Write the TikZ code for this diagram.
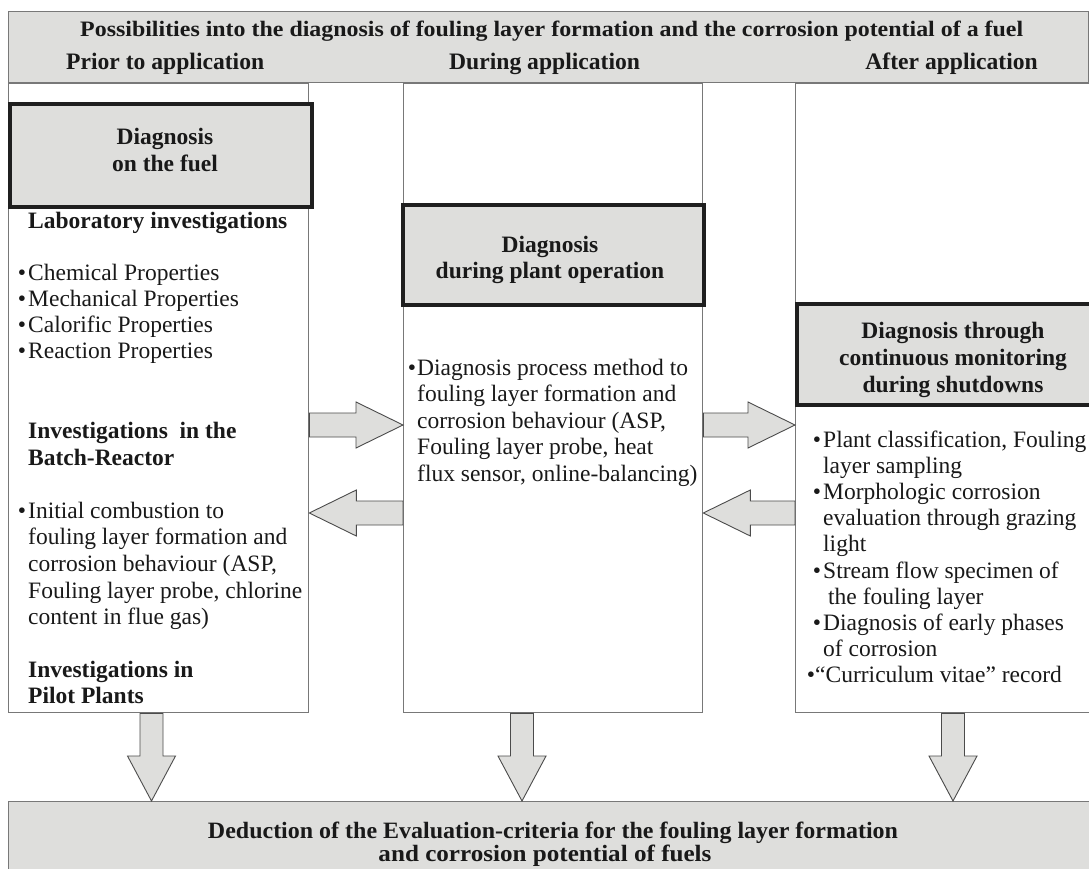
\documentclass[tikz,border=0pt]{standalone}
\usepackage{fontspec}
\setmainfont{Liberation Serif}
\usepackage{graphicx}
\usetikzlibrary{calc}
\definecolor{boxgray}{RGB}{222,222,220}
\definecolor{linegray}{RGB}{120,120,120}
\definecolor{arrowline}{RGB}{75,75,75}
\definecolor{ink}{RGB}{25,25,25}
\newcommand\harr[3]{\draw[fat] ($(#1)+(0,-12)$) -- ($(#2)+(#3,-12)$) -- ($(#2)+(#3,-23)$) -- (#2) -- ($(#2)+(#3,23)$) -- ($(#2)+(#3,12)$) -- ($(#1)+(0,12)$) -- cycle;}
\newcommand\varr[2]{\draw[fat] ($(#1)+(-11.5,0)$) -- ($(#2)+(-11.5,-45)$) -- ($(#2)+(-24,-45)$) -- (#2) -- ($(#2)+(24,-45)$) -- ($(#2)+(11.5,-45)$) -- ($(#1)+(11.5,0)$) -- cycle;}
% multi-line boxes whose baseline is the baseline of their first line
\newcommand\Lft[1]{\vtop{\halign{##\hfil\cr#1\crcr}}}
\newcommand\Ctr[1]{\vtop{\halign{\hfil##\hfil\cr#1\crcr}}}
\newcommand\bul{\llap{\textbullet\hspace{2pt}}}
\begin{document}
\begin{tikzpicture}[x=1pt,y=-1pt,
  col/.style={draw=linegray,line width=1.3pt,fill=white,anchor=north west,inner sep=0pt},
  hdr/.style={draw=linegray,line width=1.3pt,fill=boxgray,anchor=north west,inner sep=0pt},
  thickbox/.style={draw=black!88,line width=3.6pt,fill=boxgray,anchor=north west,inner sep=0pt},
  fat/.style={draw=arrowline,line width=0.9pt,fill=boxgray,line join=miter},
  txt/.style={text=ink,anchor=base west,inner sep=0pt},
  ctxt/.style={text=ink,font=\fontsize{23.5}{26.5}\selectfont\bfseries,anchor=base,inner sep=0pt},
  htxt/.style={text=ink,font=\fontsize{23.6}{26}\selectfont\bfseries,inner sep=0pt}]
\useasboundingbox (0,0) rectangle (1089,869);
\fill[white] (0,0) rectangle (1089,869);
% columns
\node[col,minimum width=300pt,minimum height=629pt] (L) at (8,83) {};
\node[col,minimum width=299pt,minimum height=629pt] (M) at (403,83) {};
\node[col,minimum width=300pt,minimum height=629pt] (R) at (795,83) {};
% header
\node[hdr,minimum width=1080pt,minimum height=71pt] (H) at (8,11) {};
\node[htxt,anchor=base west] (title) at (80,37) {\resizebox{943pt}{15.5pt}{Possibilities into the diagnosis of fouling layer formation and the corrosion potential of a fuel}};
\node[htxt,anchor=base west] (prior) at (66,70) {Prior to application};
\node[htxt,anchor=base west] (during) at (449,70) {During application};
\node[htxt,anchor=base east] (after) at (1038,70) {After application};
% thick boxes
\node[thickbox,minimum width=302pt,minimum height=103pt] (TL) at (8,102) {};
\node[thickbox,minimum width=301pt,minimum height=100pt] (TM) at (401,203) {};
\node[thickbox,minimum width=300pt,minimum height=101pt] (TR) at (795,302) {};
\node[ctxt] (tlt) at (165,145) {\Ctr{Diagnosis\cr on the fuel}};
\node[ctxt] (tmt) at (550,252) {\Ctr{Diagnosis\cr during plant operation}};
\node[ctxt,font=\fontsize{23.5}{27}\selectfont\bfseries] (trt) at (953,338) {\Ctr{Diagnosis through\cr continuous monitoring\cr during shutdowns}};
% left column text
\node[txt,font=\fontsize{23.5}{26.5}\selectfont\bfseries] (lab) at (28,228) {Laboratory investigations};
\node[txt,font=\fontsize{23.5}{26}\selectfont] (labl) at (28,280) {\Lft{\bul Chemical Properties\cr\bul Mechanical Properties\cr\bul Calorific Properties\cr\bul Reaction Properties}};
\node[txt,font=\fontsize{23.5}{27.5}\selectfont\bfseries] (batch) at (28,438) {\Lft{Investigations\ \ in the\cr Batch-Reactor}};
\node[txt,font=\fontsize{23.5}{26.7}\selectfont] (batchl) at (28,518) {\Lft{\bul Initial combustion to\cr fouling layer formation and\cr corrosion behaviour (ASP,\cr Fouling layer probe, chlorine\cr content in flue gas)}};
\node[txt,font=\fontsize{23.5}{26.5}\selectfont\bfseries] (pilot) at (28,677) {\Lft{Investigations in\cr Pilot Plants}};
% middle column text
\node[txt,font=\fontsize{23.5}{26.5}\selectfont] (mid) at (417,375) {\Lft{\llap{\textbullet\hspace{1pt}}Diagnosis process method to\cr fouling layer formation and\cr corrosion behaviour (ASP,\cr Fouling layer probe, heat\cr flux sensor, online-balancing)}};
% right column text
\node[txt,font=\fontsize{23.5}{26.2}\selectfont] (right) at (823,447) {\Lft{\bul Plant classification, Fouling\cr layer sampling\cr\bul Morphologic corrosion\cr evaluation through grazing\cr light\cr\bul Stream flow specimen of\cr\hspace{5pt}the fouling layer\cr\bul Diagnosis of early phases\cr of corrosion\cr\hspace{-8pt}\llap{\textbullet}“Curriculum vitae” record}};
% bottom box
\node[hdr,minimum width=1090pt,minimum height=80pt] (B) at (8,801) {};
\node[htxt,anchor=base] (b1) at (553,838) {\resizebox{690pt}{16.5pt}{Deduction of the Evaluation-criteria for the fouling layer formation}};
\node[htxt,anchor=base] (b2) at (545,861) {\resizebox{333pt}{16.5pt}{and corrosion potential of fuels}};
% horizontal arrows
\coordinate (a1s) at (L.east |- 0,425); \coordinate (a1e) at (M.west |- 0,425);
\coordinate (a2s) at (M.west |- 0,513); \coordinate (a2e) at (L.east |- 0,513);
\coordinate (a3s) at (M.east |- 0,425); \coordinate (a3e) at (R.west |- 0,425);
\coordinate (a4s) at (R.west |- 0,513); \coordinate (a4e) at (M.east |- 0,513);
\harr{a1s}{a1e}{-47}
\harr{a2s}{a2e}{47}
\harr{a3s}{a3e}{-47}
\harr{a4s}{a4e}{47}
% down arrows
\coordinate (d1s) at (L.south -| 151.5,0); \coordinate (d1e) at (B.north -| 151.5,0);
\coordinate (d2s) at (M.south -| 522,0); \coordinate (d2e) at (B.north -| 522,0);
\coordinate (d3s) at (R.south -| 953,0); \coordinate (d3e) at (B.north -| 953,0);
\varr{d1s}{d1e}
\varr{d2s}{d2e}
\varr{d3s}{d3e}
\end{tikzpicture}
\end{document}
